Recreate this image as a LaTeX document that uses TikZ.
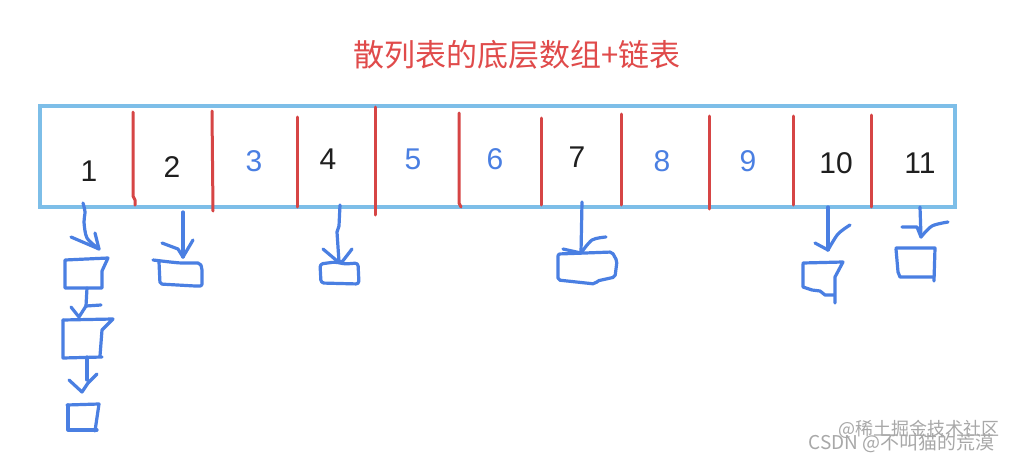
\documentclass[tikz,border=0pt]{standalone}
\usepackage{fontspec}
\setmainfont{Liberation Sans}
\newfontfamily\cjk{Noto Sans CJK SC}
\definecolor{hred}{HTML}{E04B4B}
\definecolor{rline}{HTML}{D64545}
\definecolor{rectblue}{HTML}{7DBEE8}
\definecolor{sk}{HTML}{4A7FE2}
\definecolor{wm}{HTML}{A8A8A8}
\begin{document}
\begin{tikzpicture}[x=1pt,y=-1pt,
  num/.style={font=\fontsize{30}{30}\selectfont, anchor=center, inner sep=0pt},
  bnum/.style={num, text=black!88},
  lnum/.style={num, text=sk},
  divider/.style={rline, line width=3pt, line cap=round, line join=round},
  pen/.style={sk, line width=3.2pt, line cap=round, line join=round},
  wmark/.style={text=wm, inner sep=0pt, anchor=east}]
\useasboundingbox (0,0) rectangle (1010,458);
\fill[white] (0,0) rectangle (1010,458);
% title
\node[font=\cjk\fontsize{31}{31}\selectfont, text=hred] (title) at (517,55) {散列表的底层数组+链表};
% array
\draw[rectblue, line width=3.4pt] (40,106) rectangle (955,207);
% dividers
\draw[divider] (133,112) -- (133,196) -- (135,200) -- (135,205);
\draw[divider] (212,111) -- (213,211);
\draw[divider] (297,117) -- (297,207);
\draw[divider] (375,107) -- (375,215);
\draw[divider] (459,113) -- (459,203) -- (461,207);
\draw[divider] (541,118) -- (541,205);
\draw[divider] (621,114) -- (621,205);
\draw[divider] (709,116) -- (709,209);
\draw[divider] (793,116) -- (793,205);
\draw[divider] (871,115) -- (871,207);
% numbers
\node[bnum] (n1) at (89,171) {1};
\node[bnum] (n2) at (172,167) {2};
\node[lnum] (n3) at (254,161) {3};
\node[bnum] (n4) at (328,159) {4};
\node[lnum] (n5) at (413,159) {5};
\node[lnum] (n6) at (495,159) {6};
\node[bnum] (n7) at (577,157) {7};
\node[lnum] (n8) at (662,161) {8};
\node[lnum] (n9) at (748,161) {9};
\node[bnum] (n10) at (836,163) {10};
\node[bnum] (n11) at (920,163) {11};
% slot 1 chain
\draw[pen] plot[smooth] coordinates {(83,203) (85,212) (84,222) (87,238) (99,249)};
\draw[pen] (71,237) -- (99,249) -- (95,233);
\draw[pen] (65,260) -- (108,258) -- (102,271) -- (102,288) -- (65,288) -- cycle;
\draw[pen] (87,288) -- (86,306) -- (101,305);
\draw[pen] (71,307) -- (79,317) -- (86,306);
\draw[pen] (63,320) -- (113,319) -- (102,330) -- (100,356);
\draw[pen] (63,320) -- (63,358) -- (102,357);
\draw[pen] (87,357) -- (87,380);
\draw[pen] (69,380) -- (82,392) -- (88,383) -- (97,374);
\draw[pen] (67,405) -- (99,404) -- (95,431);
\draw[pen] (68,405) -- (68,430) -- (97,430);
% slot 2
\draw[pen] (183,212) -- (183,257);
\draw[pen] (162,243) -- (178,249) -- (183,257) -- (193,240);
\draw[pen, rounded corners=2pt] (153,260) -- (170,262) -- (180,263) -- (200,263) -- (202,268) -- (202,286) -- (195,286) -- (160,284) -- (159,262);
% slot 4
\draw[pen] (340,205) -- (339,226) -- (337,232) -- (339,262);
\draw[pen] (323,249) -- (336,260) -- (342,262) -- (352,249);
\draw[pen, rounded corners=3pt] (320,264) -- (335,262) -- (345,264) -- (358,263) -- (359,284) -- (321,283) -- cycle;
% slot 7
\draw[pen] (582,202) -- (581,253);
\draw[pen] (563,249) -- (581,253);
\draw[pen] plot[smooth] coordinates {(606,237) (592,240) (581,253)};
\draw[pen, rounded corners=2pt] (558,254) -- (585,253) -- (612,252) -- (617,261) -- (615,277) -- (597,281) -- (595,284) -- (558,280) -- cycle;
% slot 10
\draw[pen] (828,207) -- (828,250);
\draw[pen] (815,243) -- (828,250);
\draw[pen] plot[smooth] coordinates {(850,225) (838,234) (828,250)};
\draw[pen] (803,263) -- (843,262) -- (835,277) -- (835,303);
\draw[pen] (803,264) -- (803,287) -- (812,290) -- (820,291) -- (825,295) -- (834,295);
% slot 11
\draw[pen] (920,207) -- (921,237);
\draw[pen] (902,227) -- (917,227) -- (921,237);
\draw[pen] plot[smooth] coordinates {(921,237) (932,226) (948,222)};
\draw[pen] (896,248) -- (935,248) -- (934,281);
\draw[pen] (896,249) -- (898,272) -- (900,277) -- (934,277);
% watermark
\node[wmark, font=\cjk\fontsize{18}{18}\selectfont] (wm1) at (1000,429) {@稀土掘金技术社区};
\node[wmark, font=\cjk\fontsize{19}{19}\selectfont] (wm2) at (995,443) {CSDN @不叫猫的荒漠};
\end{tikzpicture}
\end{document}
